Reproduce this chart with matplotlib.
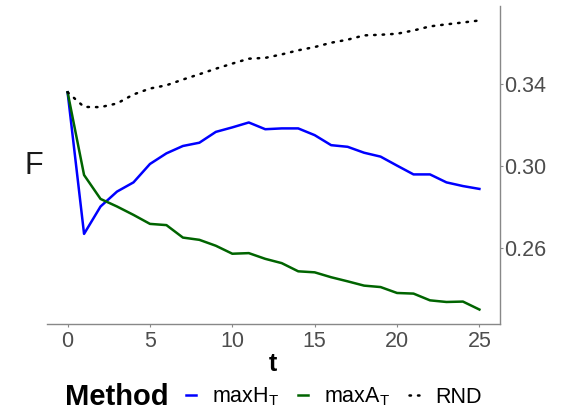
import matplotlib
matplotlib.use("Agg")
import matplotlib.pyplot as plt
from matplotlib.lines import Line2D

plt.rcParams['font.family'] = ['Liberation Sans', 'DejaVu Sans']
plt.rcParams['mathtext.fontset'] = 'custom'
plt.rcParams['mathtext.rm'] = 'Liberation Sans'
plt.rcParams['mathtext.it'] = 'Liberation Sans:italic'
plt.rcParams['mathtext.bf'] = 'Liberation Sans:bold'

t = list(range(26))
maxH = [0.3361, 0.2668, 0.2802, 0.2875, 0.2920, 0.3010, 0.3062, 0.3098, 0.3114,
        0.3167, 0.3189, 0.3213, 0.3180, 0.3184, 0.3184, 0.3151, 0.3102, 0.3094,
        0.3065, 0.3046, 0.3002, 0.2959, 0.2959, 0.2920, 0.2902, 0.2888]
maxA = [0.3361, 0.2956, 0.2839, 0.2802, 0.2761, 0.2717, 0.2711, 0.2650, 0.2639,
        0.2610, 0.2571, 0.2574, 0.2546, 0.2525, 0.2485, 0.2480, 0.2456, 0.2436,
        0.2415, 0.2408, 0.2379, 0.2376, 0.2343, 0.2335, 0.2337, 0.2298]
rnd = [0.3361, 0.3289, 0.3288, 0.3306, 0.3350, 0.3379, 0.3395, 0.3423, 0.3449,
       0.3476, 0.3501, 0.3525, 0.3529, 0.3546, 0.3566, 0.3582, 0.3603, 0.3618,
       0.3639, 0.3642, 0.3647, 0.3663, 0.3683, 0.3693, 0.3702, 0.3712]
xticks = [0, 5, 10, 15, 20, 25]
yticks = [0.26, 0.30, 0.34]
labels = ["max$\\mathregular{H_T}$", "max$\\mathregular{A_T}$", "RND"]
colors = ["#0000FF", "#006400", "black"]

fig = plt.figure(figsize=(5.77, 4.11), dpi=100)
ax = fig.add_axes([47/577, 1-324/411, (500-47)/577, (324-6)/411])

dot = (0, (0.6, 2.8))
ax.plot(t, maxH, color=colors[0], lw=1.8, solid_joinstyle='round')
ax.plot(t, maxA, color=colors[1], lw=1.8, solid_joinstyle='round')
ax.plot(t, rnd, color=colors[2], lw=1.8, linestyle=dot, dash_capstyle='round')

ax.set_xlim(-1.25, 26.25)
lo, hi = min(maxA), max(rnd)
pad = (hi - lo) * 0.05
ax.set_ylim(lo - pad, hi + pad)
ax.set_xticks(xticks)
ax.set_yticks(yticks)
ax.set_yticklabels([f"{v:.2f}" for v in yticks])
ax.yaxis.tick_right()
for s in ['left', 'top']:
    ax.spines[s].set_visible(False)
for s in ['right', 'bottom']:
    ax.spines[s].set_color('#888888')
    ax.spines[s].set_linewidth(1.0)
ax.tick_params(axis='both', length=2, width=0.8, color='#888888',
               labelcolor='#4d4d4d', labelsize=15.5)
ax.tick_params(axis='x', pad=3)
ax.tick_params(axis='y', pad=1)

fig.text(34/577, 1-166/411, "F", fontsize=22, ha='center', va='center', color='#1a1a1a')
fig.text(273/577, 1-364/411, "t", fontsize=18, fontweight='bold', ha='center', va='center')
fig.text(65/577, 1-397/411, "Method", fontsize=21, fontweight='bold', ha='left', va='center')

handles = [Line2D([], [], color=colors[0], lw=1.8),
           Line2D([], [], color=colors[1], lw=1.8),
           Line2D([], [], color=colors[2], lw=1.8, linestyle=dot, dash_capstyle='round')]
fig.legend(handles, labels, loc='center left', bbox_to_anchor=(186/577, 1-397/411),
           ncol=3, frameon=False, fontsize=15.5, handlelength=0.48, handletextpad=0.75,
           columnspacing=0.85, borderpad=0, borderaxespad=0)

fig.savefig("out.png", dpi=100)
